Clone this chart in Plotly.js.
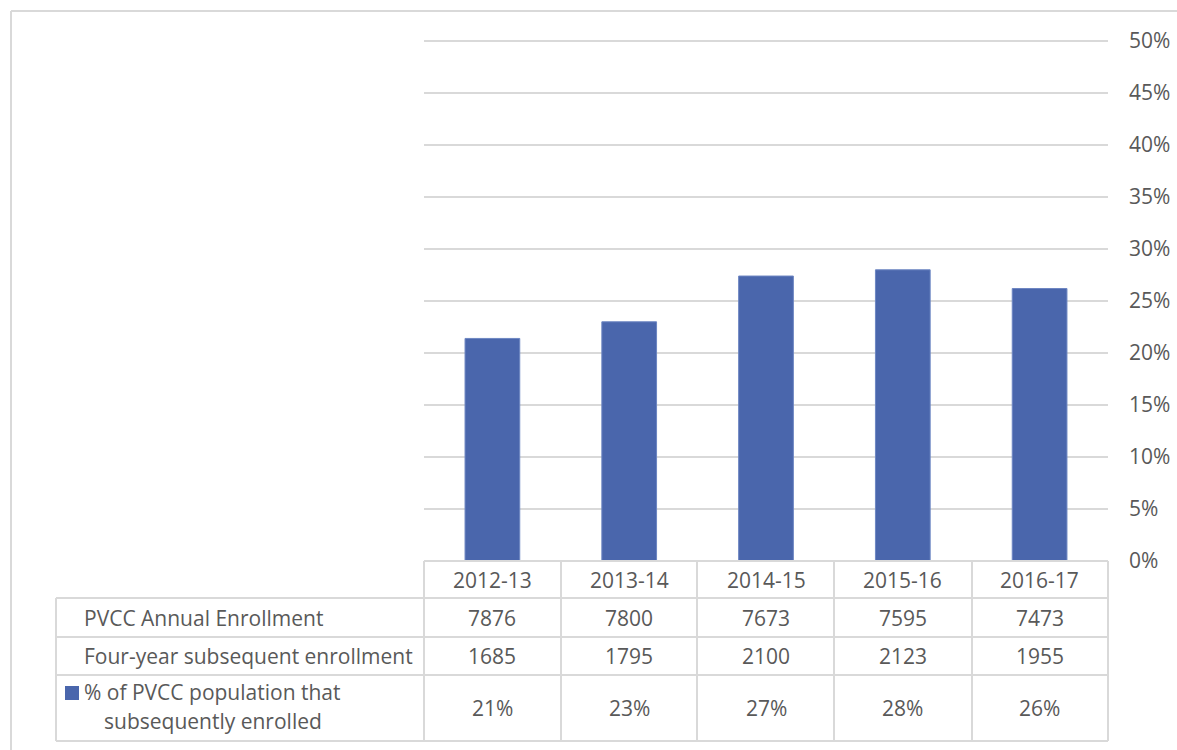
<!DOCTYPE html>
<html>
<head>
<meta charset="utf-8">
<script src="https://cdn.plot.ly/plotly-3.0.1.min.js"></script>
<style>
  html, body { margin: 0; padding: 0; background: #ffffff; }
  #chart { width: 1177px; height: 750px; }
</style>
</head>
<body>
<div id="chart"></div>
<script>
// ---- Data ----
const years = ["2012-13", "2013-14", "2014-15", "2015-16", "2016-17"];
const annualEnrollment = [7876, 7800, 7673, 7595, 7473];
const fourYearEnrollment = [1685, 1795, 2100, 2123, 1955];
const pctEnrolled = [21.4, 23.0, 27.4, 28.0, 26.2];   // bar heights (%)
const pctLabels = ["21%", "23%", "27%", "28%", "26%"];
const rowLabels = ["PVCC Annual Enrollment", "Four-year subsequent enrollment"];
const seriesName = ["% of PVCC population that", "subsequently enrolled"];
const yMax = 50;

// ---- Layout geometry (pixels) ----
const W = 1177, H = 750;
const L = 424, R = 1108, T = 41, B = 561;
const px = x => (x - L) / (R - L);
const py = y => (B - y) / (B - T);

const textColor = "#595959";
const gridColor = "#d9d9d9";
const barColor = "#4a66ac";
const FONT = "Open Sans, DejaVu Sans, sans-serif";
const FS = 21;

const colEdges = [424, 561, 697, 834, 972, 1108];
const rowEdges = [561, 598, 637, 675, 741];
const tableLeft = 56;

const shapes = [];
const lineStyle = { color: gridColor, width: 2 };
// top gridline (at axis maximum, top edge of the plot area)
shapes.push({ type: "line", xref: "paper", yref: "paper", x0: 0, x1: 1, y0: 1, y1: 1, line: lineStyle });
// outer chart border (top and left)
shapes.push({ type: "line", xref: "paper", yref: "paper", x0: px(11), x1: px(1200), y0: py(11), y1: py(11), line: lineStyle });
shapes.push({ type: "line", xref: "paper", yref: "paper", x0: px(11), x1: px(11), y0: py(11), y1: py(770), line: lineStyle });
// table horizontal lines
shapes.push({ type: "line", xref: "paper", yref: "paper", x0: px(424), x1: px(1108), y0: py(rowEdges[0]), y1: py(rowEdges[0]), line: lineStyle });
for (let i = 1; i < rowEdges.length; i++) {
  shapes.push({ type: "line", xref: "paper", yref: "paper", x0: px(tableLeft), x1: px(1108), y0: py(rowEdges[i]), y1: py(rowEdges[i]), line: lineStyle });
}
// table vertical lines
colEdges.forEach(c => {
  shapes.push({ type: "line", xref: "paper", yref: "paper", x0: px(c), x1: px(c), y0: py(561), y1: py(741), line: lineStyle });
});
shapes.push({ type: "line", xref: "paper", yref: "paper", x0: px(tableLeft), x1: px(tableLeft), y0: py(598), y1: py(741), line: lineStyle });
// legend key square
shapes.push({ type: "rect", xref: "paper", yref: "paper", x0: px(65), x1: px(79), y0: py(700), y1: py(686), fillcolor: barColor, line: { width: 0 } });

const annotations = [];
const rowCenters = [579.5, 617.5, 656, 708];
const cellFont = { family: FONT, size: FS, color: textColor };
const rows = [years, annualEnrollment, fourYearEnrollment, pctLabels];
rows.forEach((vals, r) => {
  vals.forEach((v, i) => {
    annotations.push({ xref: "x", yref: "paper", x: years[i], y: py(rowCenters[r]), text: String(v),
      showarrow: false, font: cellFont, xanchor: "center", yanchor: "middle" });
  });
});
rowLabels.forEach((t, i) => {
  annotations.push({ xref: "paper", yref: "paper", x: px(82), y: py(rowCenters[i + 1]), text: t,
    showarrow: false, font: cellFont, xanchor: "left", yanchor: "middle" });
});
annotations.push({ xref: "paper", yref: "paper", x: px(82), y: py(692), text: seriesName[0],
  showarrow: false, font: cellFont, xanchor: "left", yanchor: "middle" });
annotations.push({ xref: "paper", yref: "paper", x: px(102), y: py(721), text: seriesName[1],
  showarrow: false, font: cellFont, xanchor: "left", yanchor: "middle" });

const data = [{
  type: "bar",
  x: years,
  y: pctEnrolled,
  name: seriesName.join(" "),
  marker: { color: barColor, line: { color: "#6d86c2", width: 1 } },
  hoverinfo: "x+y"
}];

const layout = {
  width: W, height: H,
  margin: { l: L, r: W - R, t: T, b: H - B, pad: 0 },
  paper_bgcolor: "#ffffff",
  plot_bgcolor: "#ffffff",
  showlegend: false,
  bargap: 0.6,
  font: { family: FONT, size: FS, color: textColor },
  xaxis: {
    type: "category",
    showticklabels: false,
    showgrid: false,
    zeroline: false,
    showline: false,
    ticks: ""
  },
  yaxis: {
    side: "right",
    range: [0, yMax],
    dtick: 5,
    tick0: 0,
    ticksuffix: "%",
    showgrid: true,
    gridcolor: gridColor,
    gridwidth: 2,
    zeroline: false,
    showline: false,
    ticks: "",
    ticklabelstandoff: 20,
    tickfont: { family: FONT, size: FS, color: textColor }
  },
  shapes: shapes,
  annotations: annotations
};

Plotly.newPlot("chart", data, layout, { displayModeBar: false, staticPlot: true });
</script>
</body>
</html>
